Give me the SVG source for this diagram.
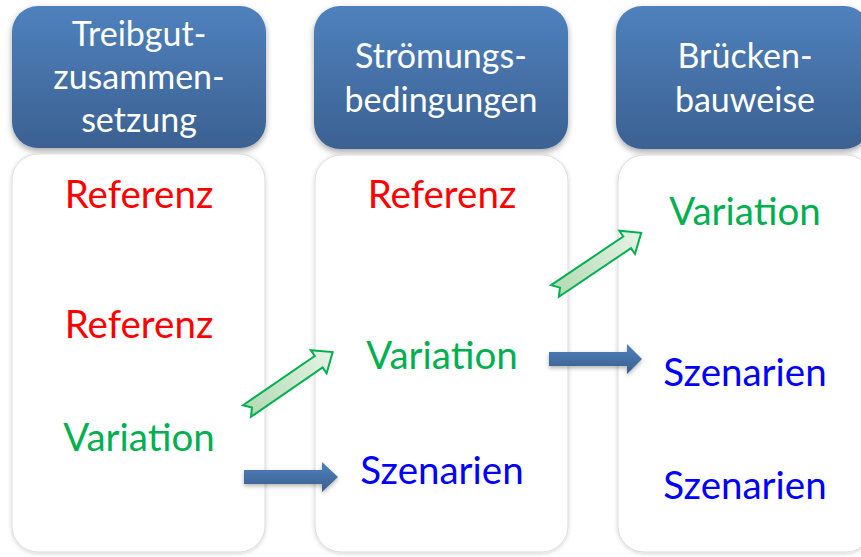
<svg xmlns="http://www.w3.org/2000/svg" width="861" height="557" viewBox="0 0 861 557">
<defs>
<linearGradient id="hdrGrad" x1="0" y1="0" x2="0" y2="1">
<stop offset="0" stop-color="#4f81bd"/>
<stop offset="1" stop-color="#3b6192"/>
</linearGradient>
<linearGradient id="blueArrow" x1="0" y1="0" x2="0" y2="1">
<stop offset="0" stop-color="#4f81bd"/>
<stop offset="1" stop-color="#3a5f8e"/>
</linearGradient>
<linearGradient id="greenArrow" x1="0" y1="0" x2="1" y2="0">
<stop offset="0" stop-color="#b3dab3"/>
<stop offset="1" stop-color="#e6f3e6"/>
</linearGradient>
<filter id="shadow" x="-10%" y="-10%" width="120%" height="130%">
<feDropShadow dx="0" dy="3" stdDeviation="3" flood-color="#000" flood-opacity="0.35"/>
</filter>
<filter id="softShadow" x="-10%" y="-10%" width="120%" height="120%">
<feDropShadow dx="0" dy="1" stdDeviation="2" flood-color="#000" flood-opacity="0.18"/>
</filter>
<filter id="arrowShadow" x="-10%" y="-30%" width="120%" height="170%">
<feDropShadow dx="0" dy="2" stdDeviation="2" flood-color="#000" flood-opacity="0.3"/>
</filter>
</defs>
<style>
.hdr { fill: url(#hdrGrad); filter: url(#shadow); }
.body { fill: #ffffff; stroke: #dcdcdc; stroke-width: 1; filter: url(#softShadow); }
.ht { font-family: Lato, "Open Sans", sans-serif; font-size: 34px; fill: #ffffff; text-anchor: middle; }
.bt { font-family: Lato, "Open Sans", sans-serif; font-size: 38.5px; text-anchor: middle; }
.ref { fill: #ff0000; }
.var { fill: #00b050; }
.sz { fill: #0000ff; }
.ba { fill: url(#blueArrow); filter: url(#arrowShadow); }
.ga { fill: url(#greenArrow); stroke: #00b050; stroke-width: 2; stroke-linejoin: miter; }
</style>
<rect width="861" height="557" fill="#ffffff"/>

<g id="col1-header">
<rect class="hdr" x="12" y="6" width="254" height="142" rx="26"/>
<text class="ht" x="139" y="46">Treibgut-</text>
<text class="ht" x="139" y="89">zusammen-</text>
<text class="ht" x="139" y="132">setzung</text>
</g>
<g id="col2-header">
<rect class="hdr" x="314" y="6" width="254" height="143" rx="26"/>
<text class="ht" x="441" y="68">Strömungs-</text>
<text class="ht" x="441" y="112">bedingungen</text>
</g>
<g id="col3-header">
<rect class="hdr" x="616" y="6" width="254" height="143" rx="26"/>
<text class="ht" x="745" y="68">Brücken-</text>
<text class="ht" x="745" y="112">bauweise</text>
</g>

<g id="col1-body">
<rect class="body" x="12" y="154" width="253" height="398" rx="26"/>
<text class="bt ref" x="139" y="208">Referenz</text>
<text class="bt ref" x="139" y="338">Referenz</text>
<text class="bt var" x="139" y="451">Variation</text>
</g>
<g id="col2-body">
<rect class="body" x="315" y="155" width="253" height="397" rx="26"/>
<text class="bt ref" x="442" y="208">Referenz</text>
<text class="bt var" x="442" y="369">Variation</text>
<text class="bt sz" x="442" y="484">Szenarien</text>
</g>
<g id="col3-body">
<rect class="body" x="618" y="155" width="254" height="397" rx="26"/>
<text class="bt var" x="745" y="225">Variation</text>
<text class="bt sz" x="745" y="386">Szenarien</text>
<text class="bt sz" x="745" y="499">Szenarien</text>
</g>

<g id="connectors">
<polygon class="ba" points="244,470 322,470 322,462 338,477 322,492 322,484 244,484"/>
<polygon class="ba" points="549,352 627,352 627,344 642,359 627,374 627,366 549,366"/>
<polygon class="ga" transform="translate(247,411) rotate(-34.5)" points="0,-7 87,-7 87,-14 104,0 87,14 87,7 0,7 6,0"/>
<polygon class="ga" transform="translate(555,291) rotate(-34)" points="0,-7 87,-7 87,-14 104,0 87,14 87,7 0,7 6,0"/>
</g>
</svg>
